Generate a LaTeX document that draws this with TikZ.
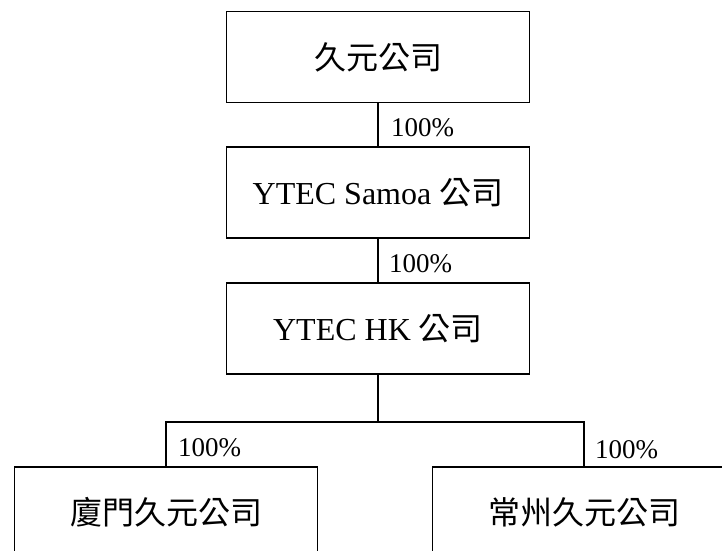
\documentclass[tikz,border=0pt]{standalone}
\usepackage{fontspec}
\setmainfont{Liberation Serif}
\newfontfamily\cjk{Noto Sans CJK TC}
\usetikzlibrary{positioning}

\begin{document}
\begin{tikzpicture}[x=1pt,y=-1pt,line cap=rect,
	company/.style={draw, line width=1.8pt, minimum width=303pt, minimum height=91pt, inner sep=0pt, font=\fontsize{32pt}{36pt}\selectfont},
	share/.style={inner sep=0pt, outer sep=0pt, anchor=base west, font=\fontsize{27pt}{30pt}\selectfont},
	link/.style={line width=1.8pt}]
	\useasboundingbox (0,0) rectangle (722,550);
	\clip (0,0) rectangle (722,550); % the page cuts the two lower boxes
	\node[company] (jiuyuan) at (378,57) {\cjk 久元公司};
	\node[company] (samoa) at (378,192.5) {YTEC Samoa {\cjk 公司}};
	\node[company] (hk) at (378,328.5) {YTEC HK {\cjk 公司}};
	\node[company] (xiamen) at (166,512.5) {\cjk 廈門久元公司};
	\node[company] (changzhou) at (584,512.5) {\cjk 常州久元公司};
	\draw[link] (jiuyuan) -- (samoa);
	\draw[link] (samoa) -- (hk);
	\draw[link] (hk.south) -- ++(0,47) coordinate (bus);
	\draw[link] (xiamen.north) |- (bus) -| (changzhou.north);
	\path (samoa.north) ++(13,-10) node[share] (shareA) {100\%};
	\path (hk.north) ++(11,-10) node[share] (shareB) {100\%};
	\path (xiamen.north) ++(12,-10) node[share] (shareC) {100\%};
	\path (changzhou.north) ++(11,-8) node[share] (shareD) {100\%};
\end{tikzpicture}
\end{document}
